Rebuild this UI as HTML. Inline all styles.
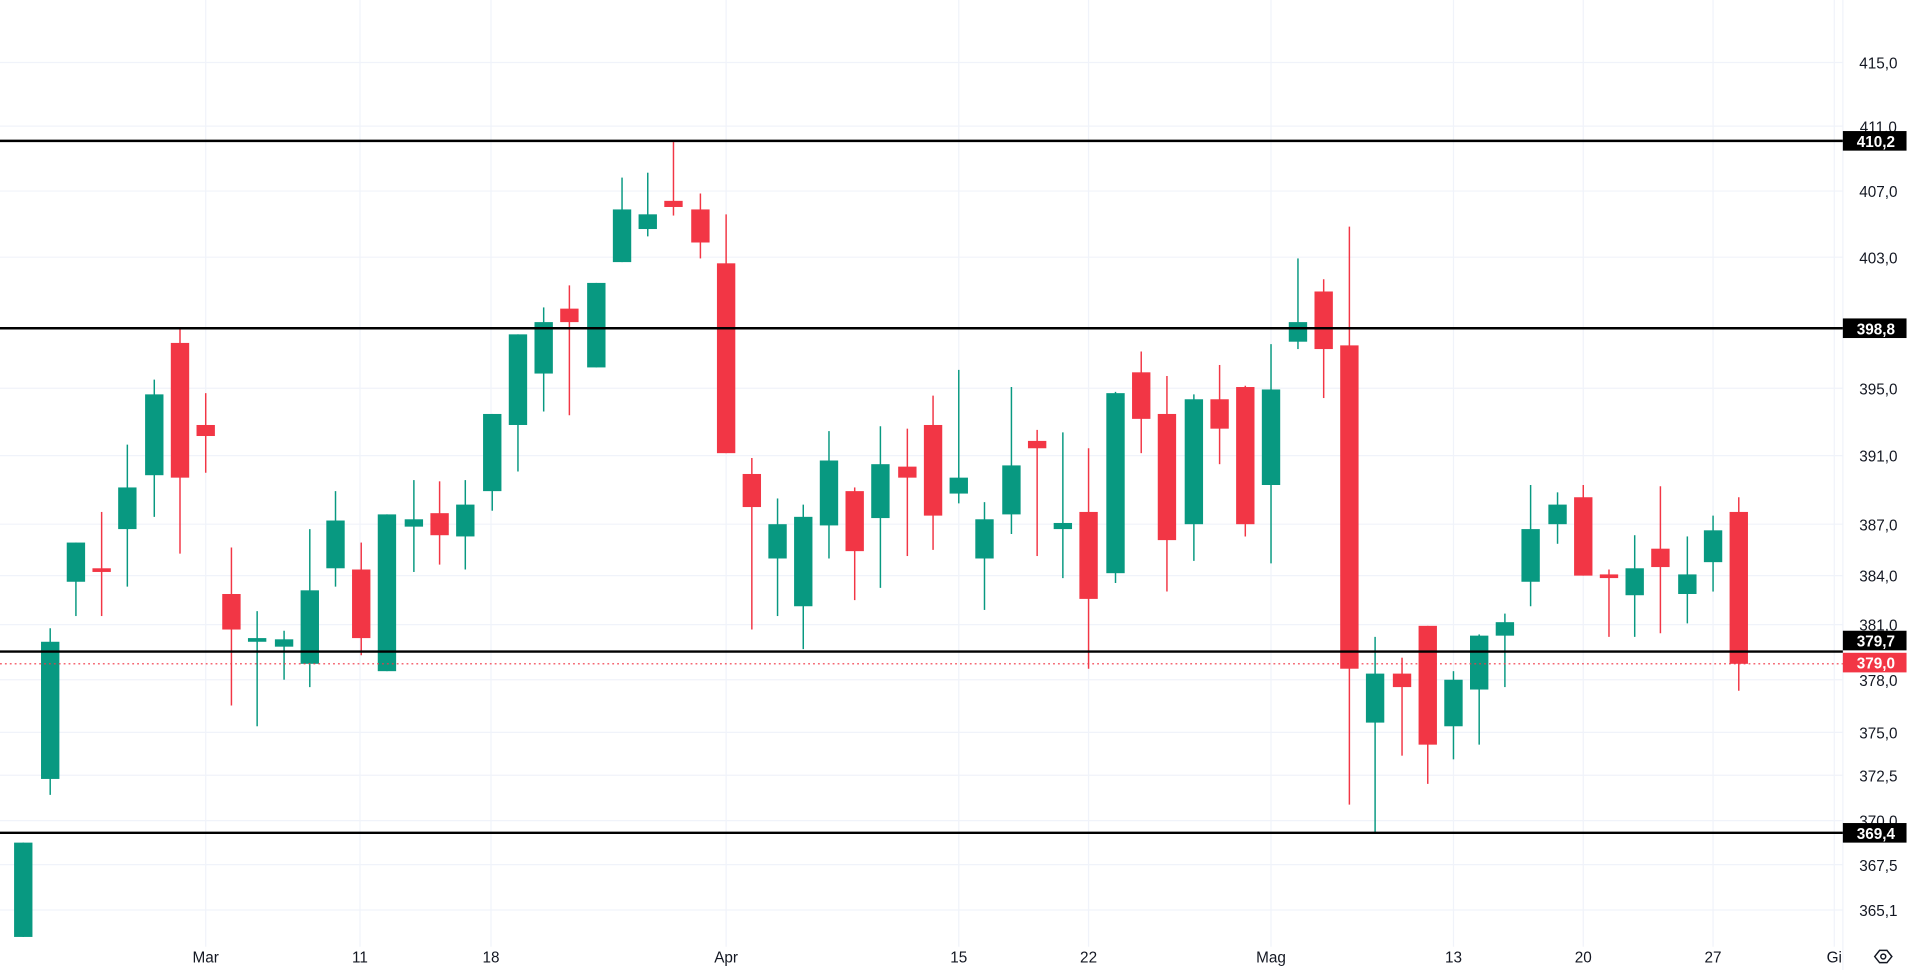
<!DOCTYPE html>
<html><head><meta charset="utf-8"><style>
html,body{margin:0;padding:0;background:#fff;width:1920px;height:970px;overflow:hidden}
svg{display:block}
text{font-family:"Liberation Sans",sans-serif}
</style></head><body>
<svg id="s" width="1920" height="970" viewBox="0 0 1568 792" preserveAspectRatio="none">
<g stroke="#f0f3fa" stroke-width="1">
<line x1="0" x2="1505" y1="51" y2="51"/><line x1="0" x2="1505" y1="103" y2="103"/><line x1="0" x2="1505" y1="156" y2="156"/><line x1="0" x2="1505" y1="210" y2="210"/><line x1="0" x2="1505" y1="317" y2="317"/><line x1="0" x2="1505" y1="372" y2="372"/><line x1="0" x2="1505" y1="428" y2="428"/><line x1="0" x2="1505" y1="470" y2="470"/><line x1="0" x2="1505" y1="510" y2="510"/><line x1="0" x2="1505" y1="555" y2="555"/><line x1="0" x2="1505" y1="598" y2="598"/><line x1="0" x2="1505" y1="633" y2="633"/><line x1="0" x2="1505" y1="670" y2="670"/><line x1="0" x2="1505" y1="706" y2="706"/><line x1="0" x2="1505" y1="743" y2="743"/>
<line y1="0" y2="773" x1="168" x2="168"/><line y1="0" y2="773" x1="294" x2="294"/><line y1="0" y2="773" x1="401" x2="401"/><line y1="0" y2="773" x1="593" x2="593"/><line y1="0" y2="773" x1="783" x2="783"/><line y1="0" y2="773" x1="889" x2="889"/><line y1="0" y2="773" x1="1038" x2="1038"/><line y1="0" y2="773" x1="1187" x2="1187"/><line y1="0" y2="773" x1="1293" x2="1293"/><line y1="0" y2="773" x1="1399" x2="1399"/><line y1="0" y2="773" x1="1498" x2="1498"/>
<line x1="1505" x2="1505" y1="0" y2="792"/>
</g>
<g id="c"></g>
<line x1="0" x2="1505" y1="542" y2="542" stroke="#f23645" stroke-width="1" stroke-dasharray="1.5,2.5"/>
<g stroke="#000" stroke-width="2">
<line x1="0" x2="1505" y1="115" y2="115"/><line x1="0" x2="1505" y1="268" y2="268"/><line x1="0" x2="1505" y1="532" y2="532"/><line x1="0" x2="1505" y1="680" y2="680"/>
</g>
<g font-size="12.5" fill="#131722" text-anchor="middle">
<text x="1534" y="56">415,0</text><text x="1534" y="108">411,0</text><text x="1534" y="161">407,0</text><text x="1534" y="215">403,0</text><text x="1534" y="322">395,0</text><text x="1534" y="377">391,0</text><text x="1534" y="433">387,0</text><text x="1534" y="475">384,0</text><text x="1534" y="515">381,0</text><text x="1534" y="560">378,0</text><text x="1534" y="603">375,0</text><text x="1534" y="638">372,5</text><text x="1534" y="675">370,0</text><text x="1534" y="711">367,5</text><text x="1534" y="748">365,1</text>
</g>
<rect x="1505" y="107" width="52" height="16" fill="#000"/><rect x="1505" y="260" width="52" height="16" fill="#000"/><rect x="1505" y="515" width="52" height="16" fill="#000"/><rect x="1505" y="533" width="52" height="16" fill="#f23645"/><rect x="1505" y="672" width="52" height="16" fill="#000"/>
<g font-size="12.5" fill="#fff" text-anchor="middle" font-weight="bold">
<text x="1532" y="120">410,2</text><text x="1532" y="273">398,8</text><text x="1532" y="528">379,7</text><text x="1532" y="546">379,0</text><text x="1532" y="685">369,4</text>
</g>
<g font-size="12.5" fill="#131722" text-anchor="middle">
<text x="168" y="786">Mar</text><text x="294" y="786">11</text><text x="401" y="786">18</text><text x="593" y="786">Apr</text><text x="783" y="786">15</text><text x="889" y="786">22</text><text x="1038" y="786">Mag</text><text x="1187" y="786">13</text><text x="1293" y="786">20</text><text x="1399" y="786">27</text><text x="1498" y="786">Gi</text>
</g>
<g fill="none" stroke="#131722" stroke-width="1.2"><path d="M1531,781 l4,-5 h6 l4,5 l-4,5 h-6z"/><circle cx="1538" cy="781" r="2"/></g>
</svg>
<script>
var d=[[19,'g',688,765,688,765],[41,'g',524,636,513,649],[62,'g',443,475,443,503],[83,'r',464,466,418,503],[104,'g',398,432,363,479],[126,'g',322,388,310,422],[147,'r',280,390,268,452],[168,'r',347,356,321,386],[189,'r',485,514,447,576],[210,'g',521,524,499,593],[232,'g',522,528,515,555],[253,'g',482,542,432,561],[274,'g',425,464,401,479],[295,'r',465,521,443,535],[316,'g',420,548,420,548],[338,'g',424,430,392,467],[359,'r',419,437,393,461],[380,'g',412,438,392,465],[402,'g',338,401,338,417],[423,'g',273,347,273,385],[444,'g',263,305,251,336],[465,'r',252,263,233,339],[487,'g',231,300,231,300],[508,'g',171,214,145,214],[529,'g',175,187,141,193],[550,'r',164,169,116,176],[572,'r',171,198,158,211],[593,'r',215,370,175,370],[614,'r',387,414,374,514],[635,'g',428,456,407,503],[656,'g',422,495,412,530],[677,'g',376,429,352,456],[698,'r',401,450,398,490],[719,'g',379,423,348,480],[741,'r',381,390,350,454],[762,'r',347,421,323,449],[783,'g',390,403,302,411],[804,'g',424,456,410,498],[826,'g',380,420,316,436],[847,'r',360,366,351,454],[868,'g',427,432,353,472],[889,'r',418,489,366,546],[911,'g',321,468,320,476],[932,'r',304,342,287,370],[953,'r',338,441,307,483],[975,'g',326,428,322,458],[996,'r',326,350,298,379],[1017,'r',316,428,315,438],[1038,'g',318,396,281,460],[1060,'g',263,279,211,285],[1081,'r',238,285,228,325],[1102,'r',282,546,185,657],[1123,'g',550,590,520,680],[1145,'r',550,561,537,617],[1166,'r',511,608,511,640],[1187,'g',555,593,548,620],[1208,'g',519,563,518,608],[1229,'g',508,519,501,561],[1250,'g',432,475,396,495],[1272,'g',412,428,402,444],[1293,'r',406,470,396,470],[1314,'r',469,472,465,520],[1335,'g',464,486,437,520],[1356,'r',448,463,397,517],[1378,'g',469,485,438,509],[1399,'g',433,459,421,483],[1420,'r',418,542,406,564]];
var h='';d.forEach(function(c){var col=c[1]=='g'?'#089981':'#f23645';var t=Math.min(c[2],c[3]),b=Math.max(c[2],c[3]);if(b-t<3){b=t+3;}
h+='<line x1="'+c[0]+'" x2="'+c[0]+'" y1="'+c[4]+'" y2="'+c[5]+'" stroke="'+col+'" stroke-width="1.2"/>';
h+='<rect x="'+(c[0]-7.5)+'" y="'+t+'" width="15" height="'+(b-t)+'" fill="'+col+'"/>';});
document.getElementById('c').innerHTML=h;
</script>
</body></html>
